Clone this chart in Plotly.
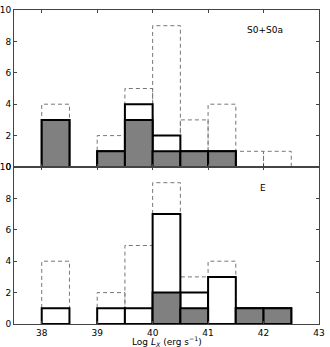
import plotly.graph_objects as go
from plotly.subplots import make_subplots

# histogram bins (left edges, width 0.5) in log L_X
bin_left = [38.0, 38.5, 39.0, 39.5, 40.0, 40.5, 41.0, 41.5, 42.0]
bin_width = 0.5

# whole sample (dashed outline, same in both panels)
total = [4, 0, 2, 5, 9, 3, 4, 1, 1]

# S0+S0a panel
s0_all = [3, 0, 1, 4, 2, 1, 1, 0, 0]
s0_gray = [3, 0, 1, 3, 1, 1, 1, 0, 0]

# E panel
e_all = [1, 0, 1, 1, 7, 2, 3, 1, 1]
e_gray = [0, 0, 0, 0, 2, 1, 0, 1, 1]

centers = [b + bin_width / 2 for b in bin_left]


def nz(vals):
    xs = [c for c, v in zip(centers, vals) if v > 0]
    ys = [v for v in vals if v > 0]
    return xs, ys


fig = make_subplots(rows=2, cols=1, shared_xaxes=True, vertical_spacing=0)

for row, all_vals, gray_vals in [(1, s0_all, s0_gray), (2, e_all, e_gray)]:
    # dashed outline of the whole sample, kept below the bars
    for b, v in zip(bin_left, total):
        if v > 0:
            fig.add_shape(type="rect", x0=b, x1=b + bin_width, y0=0, y1=v,
                          line=dict(color="#777777", width=1, dash="4px,3px"),
                          layer="below", row=row, col=1)
    x, y = nz(all_vals)
    fig.add_trace(go.Bar(x=x, y=y, width=bin_width, marker=dict(color="white",
                         line=dict(color="black", width=2))), row=row, col=1)
    x, y = nz(gray_vals)
    fig.add_trace(go.Bar(x=x, y=y, width=bin_width, marker=dict(color="#808080",
                         line=dict(color="black", width=2))), row=row, col=1)

axis_style = dict(showgrid=False, zeroline=False, showline=True, linecolor="#444444",
                  linewidth=1, mirror="ticks", ticks="inside", ticklen=3,
                  tickcolor="#444444", tickfont=dict(size=9, color="black"),
                  automargin=False)

fig.update_xaxes(range=[37.5, 43.0001], tickvals=[38, 39, 40, 41, 42, 43], **axis_style)
fig.update_yaxes(range=[0, 10], tickvals=[0, 2, 4, 6, 8, 10], **axis_style)

fig.add_annotation(text="Log <i>L<sub>X</sub></i> (erg s<sup>−1</sup>)",
                   xref="paper", yref="paper", x=0.5, y=-0.055, yanchor="middle",
                   showarrow=False, font=dict(size=9, color="black"))
fig.add_annotation(text="S0+S0a", xref="x domain", yref="y domain", x=0.89, y=0.92,
                   showarrow=False, font=dict(size=9, color="black"))
fig.add_annotation(text="E", xref="x2 domain", yref="y2 domain", x=0.833, y=0.91,
                   showarrow=False, font=dict(size=9, color="black"))

fig.update_layout(width=330, height=347, showlegend=False, barmode="overlay",
                  plot_bgcolor="white", paper_bgcolor="white",
                  font=dict(family="DejaVu Sans"),
                  margin=dict(l=14, r=11, t=10, b=23))

fig.write_html("out.html", config={"displayModeBar": False},
               post_script="document.body.style.margin='0';")
